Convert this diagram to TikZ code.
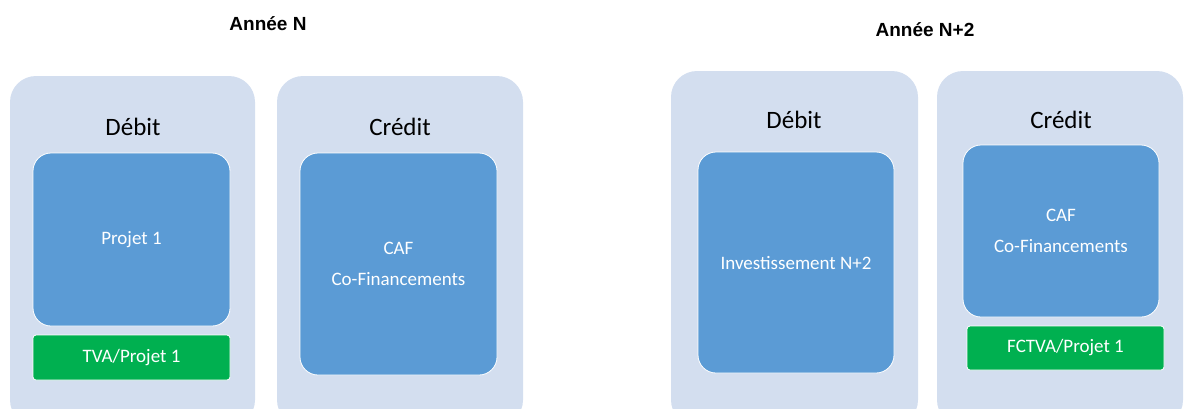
\documentclass[tikz,border=0pt]{standalone}
\usepackage{fontspec}
\setmainfont{Carlito}
\newfontfamily\headfont{Liberation Sans}
\definecolor{panel}{HTML}{D3DEEF}
\definecolor{blockblue}{HTML}{5B9BD5}
\definecolor{blockgreen}{HTML}{00B050}
\begin{document}
\begin{tikzpicture}[x=1pt,y=-1pt,
  panelbox/.style={fill=panel, draw=none, rounded corners=26pt, inner sep=0pt},
  bluebox/.style={fill=blockblue, draw=white, line width=0.8pt, rounded corners=18pt,
    inner sep=0pt, text=white, align=center, font=\fontsize{19}{23}\selectfont},
  greenbox/.style={fill=blockgreen, draw=white, line width=0.8pt, rounded corners=3pt,
    inner sep=0pt, text=white, font=\fontsize{19}{23}\selectfont},
  sidelabel/.style={font=\fontsize{25}{29}\selectfont, text=black},
  yearlabel/.style={font=\headfont\bfseries\fontsize{19}{22}\selectfont, text=black}]
\useasboundingbox (0,0) rectangle (1184,408);
\clip (0,0) rectangle (1184,408);

% Year N
\node[yearlabel] (tN) at (268,24) {Année N};
\node[panelbox, minimum width=245, minimum height=350] (dN) at (132.5,251) {};
\node[panelbox, minimum width=246, minimum height=350] (cN) at (400,251) {};
\node[sidelabel] (dNlab) at (133,127) {Débit};
\node[sidelabel] (cNlab) at (400,127) {Crédit};
\node[bluebox, minimum width=197, minimum height=173] (proj) at (131.5,239.5) {Projet 1};
\node[greenbox, minimum width=197, minimum height=45] (tva) at (131.5,357.5) {TVA/Projet 1};
\node[bluebox, minimum width=197, minimum height=222] (cafN) at (398.5,264)
  {CAF\\[8pt]Co-Financements};

% Year N+2
\node[yearlabel] (tN2) at (925,30) {Année N+2};
\node[panelbox, minimum width=247, minimum height=355] (dN2) at (794.5,248.5) {};
\node[panelbox, minimum width=246, minimum height=355] (cN2) at (1060,248.5) {};
\node[sidelabel] (dN2lab) at (794,120) {Débit};
\node[sidelabel] (cN2lab) at (1061,120) {Crédit};
\node[bluebox, minimum width=196, minimum height=221] (inv) at (796,262.5) {Investissement N+2};
\node[bluebox, minimum width=196, minimum height=172] (cafN2) at (1061,231)
  {CAF\\[8pt]Co-Financements};
\node[greenbox, minimum width=197, minimum height=44] (fctva) at (1065.5,348) {FCTVA/Projet 1};
\end{tikzpicture}
\end{document}
